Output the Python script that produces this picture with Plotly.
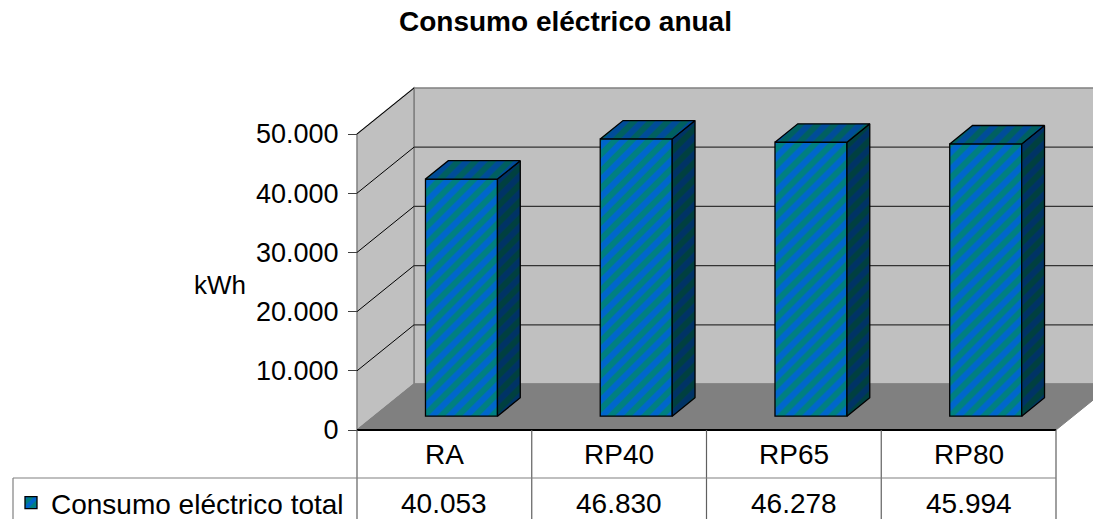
import plotly.graph_objects as go

# ---------------- data ----------------
categories = ["RA", "RP40", "RP65", "RP80"]
values = [40053, 46830, 46278, 45994]
value_labels = ["40.053", "46.830", "46.278", "45.994"]
series_name = "Consumo eléctrico total"
tick_values = [0, 10000, 20000, 30000, 40000, 50000]
title_text = "Consumo eléctrico anual"
y_title = "kWh"

# ---------------- geometry (pixel calibration) ----------------
W, H = 1093, 519
FRONT_X0 = 357.0        # px of category edge -0.5
PX_PER_CAT = 174.75
ZERO_PY = 430.0
PX_PER_UNIT = 0.00592   # px per kWh
DEPTH_PX = (57.0, 46.0)

def dx(px):  # pixel -> x data
    return -0.5 + (px - FRONT_X0) / PX_PER_CAT

def dy(py):  # pixel -> y data
    return (ZERO_PY - py) / PX_PER_UNIT

DX = DEPTH_PX[0] / PX_PER_CAT
DY = DEPTH_PX[1] / PX_PER_UNIT
XR = [dx(0), dx(W)]
YR = [dy(H), dy(0)]
X_LEFT, X_RIGHT = -0.5, len(categories) - 0.5
YMAX = tick_values[-1]

BAR_W = 0.412
D0, D1 = 0.30, 0.70     # bar depth span
FONT = "Liberation Sans, Arial, sans-serif"

fig = go.Figure()

def path(pts):
    return "M " + " L ".join(f"{x},{y}" for x, y in pts) + " Z"

shapes = []
# back wall
shapes.append(dict(type="path", xref="x", yref="y", layer="below",
                   path=path([(X_LEFT + DX, DY), (X_RIGHT + DX, DY), (X_RIGHT + DX, YMAX + DY), (X_LEFT + DX, YMAX + DY)]),
                   fillcolor="#C0C0C0", line=dict(color="#808080", width=1.5)))
# left wall
shapes.append(dict(type="path", xref="x", yref="y", layer="below",
                   path=path([(X_LEFT, 0), (X_LEFT, YMAX), (X_LEFT + DX, YMAX + DY), (X_LEFT + DX, DY)]),
                   fillcolor="#C0C0C0", line=dict(color="#808080", width=1.5)))
# floor
shapes.append(dict(type="path", xref="x", yref="y", layer="below",
                   path=path([(X_LEFT, 0), (X_RIGHT, 0), (X_RIGHT + DX, DY), (X_LEFT + DX, DY)]),
                   fillcolor="#808080", line=dict(color="#808080", width=1)))
# gridlines
for t in tick_values[1:-1]:
    shapes.append(dict(type="line", xref="x", yref="y", layer="below",
                       x0=X_LEFT + DX, y0=t + DY, x1=X_RIGHT + DX, y1=t + DY,
                       line=dict(color="#333333", width=1.3)))
for t in tick_values[1:]:
    shapes.append(dict(type="line", xref="x", yref="y", layer="below",
                       x0=X_LEFT, y0=t, x1=X_LEFT + DX, y1=t + DY,
                       line=dict(color="#000000", width=1)))
# floor front edge
shapes.append(dict(type="line", xref="x", yref="y", x0=X_LEFT, y0=0, x1=X_RIGHT, y1=0,
                   line=dict(color="#000000", width=2)))
# data table grid
row1_y = dy(478)
for i in range(len(categories) + 1):
    xe = X_LEFT + i
    shapes.append(dict(type="line", xref="x", yref="y", x0=xe, y0=0, x1=xe, y1=YR[0],
                       line=dict(color="#606060", width=1.2)))
shapes.append(dict(type="line", xref="x", yref="y", x0=dx(13), y0=row1_y, x1=X_RIGHT, y1=row1_y,
                   line=dict(color="#808080", width=1.2)))
shapes.append(dict(type="line", xref="x", yref="y", x0=dx(13), y0=row1_y, x1=dx(13), y1=YR[0],
                   line=dict(color="#808080", width=1.2)))

# ---------------- bars ----------------
xs = [i + D0 * DX for i in range(len(categories))]
base = D0 * DY
PAT = dict(shape="/", size=12, solidity=0.5, fgopacity=1)
fig.add_trace(go.Bar(
    x=xs, y=values, base=[base] * len(values), width=BAR_W,
    name=series_name, showlegend=True,
    marker=dict(color="#008080", line=dict(color="#000000", width=1.3),
                pattern=dict(fgcolor="#0066CC", bgcolor="#008080", **PAT)),
    hoverinfo="skip",
))

ddx = (D1 - D0) * DX
ddy = (D1 - D0) * DY
for xc, v in zip(xs, values):
    xl, xr = xc - BAR_W / 2, xc + BAR_W / 2
    top = base + v
    # side face
    sx = [xr, xr, xr + ddx, xr + ddx, xr]
    sy = [base, top, top + ddy, base + ddy, base]
    fig.add_trace(go.Scatter(x=sx, y=sy, mode="lines", fill="toself", fillcolor="#004040",
                             fillpattern=dict(fgcolor="#003366", bgcolor="#004040", **PAT),
                             line=dict(color="#000000", width=1.3), showlegend=False, hoverinfo="skip"))
    # top face
    tx = [xl, xr, xr + ddx, xl + ddx, xl]
    ty = [top, top, top + ddy, top + ddy, top]
    fig.add_trace(go.Scatter(x=tx, y=ty, mode="lines", fill="toself", fillcolor="#006060",
                             fillpattern=dict(fgcolor="#004C99", bgcolor="#006060", **PAT),
                             line=dict(color="#000000", width=1.3), showlegend=False, hoverinfo="skip"))

# ---------------- table text ----------------
ann = []
for i, (c, lab) in enumerate(zip(categories, value_labels)):
    ann.append(dict(x=i, y=dy(454), xref="x", yref="y", text=c, showarrow=False,
                    font=dict(family=FONT, size=28, color="#000000"), xanchor="center", yanchor="middle"))
    ann.append(dict(x=i, y=dy(503), xref="x", yref="y", text=lab, showarrow=False,
                    font=dict(family=FONT, size=28, color="#000000"), xanchor="center", yanchor="middle"))
ann.append(dict(x=565 / W, y=1 - 22 / H, xref="paper", yref="paper", text="<b>" + title_text + "</b>",
                showarrow=False, font=dict(family=FONT, size=28, color="#000000"), xanchor="center", yanchor="middle"))
ann.append(dict(x=220 / W, y=1 - 285 / H, xref="paper", yref="paper", text=y_title,
                showarrow=False, font=dict(family=FONT, size=26, color="#000000"), xanchor="center", yanchor="middle"))

fig.update_layout(
    width=W, height=H, margin=dict(l=0, r=0, t=0, b=0, autoexpand=False),
    paper_bgcolor="white", plot_bgcolor="white",
    separators=",.",
    shapes=shapes, annotations=ann,
    xaxis=dict(range=XR, visible=False, fixedrange=True),
    yaxis=dict(range=YR, anchor="free", position=FRONT_X0 / W, tickvals=tick_values, tickformat=",d",
               ticks="outside", ticklen=9, ticklabelstandoff=4, tickcolor="#404040", showline=False,
               showgrid=False, zeroline=False,
               tickfont=dict(family=FONT, size=27, color="#000000"), fixedrange=True, automargin=False),
    legend=dict(x=11 / W, y=1 - 503 / H, xanchor="left", yanchor="middle", bgcolor="rgba(0,0,0,0)",
                font=dict(family=FONT, size=28, color="#000000")),
    barmode="overlay",
    font=dict(family=FONT),
)

fig.write_html("out.html")
